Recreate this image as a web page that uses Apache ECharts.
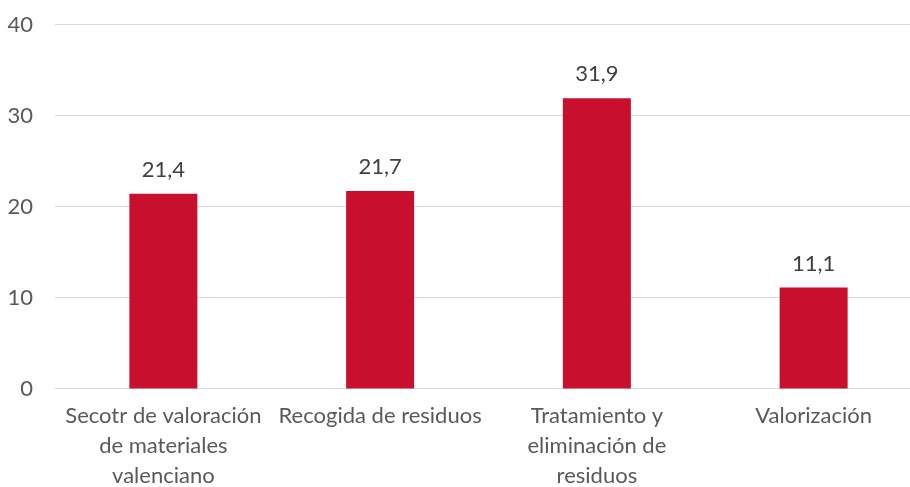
<!DOCTYPE html>
<html><head><meta charset="utf-8">
<script src="https://cdn.jsdelivr.net/npm/echarts@6/dist/echarts.min.js"></script>
<style>html,body{margin:0;padding:0;background:#fff}#c{width:910px;height:487px}</style>
</head><body><div id="c"></div>
<script>
const categories = ["Secotr de valoración\nde materiales\nvalenciano", "Recogida de residuos", "Tratamiento y\neliminación de\nresiduos", "Valorización"];
const values = [21.4, 21.7, 31.9, 11.1];
const yTicks = [0, 10, 20, 30, 40];

const chart = echarts.init(document.getElementById('c'));
const font = 'Lato, "Liberation Sans", sans-serif';
chart.setOption({
  animation: false,
  grid: { left: 55, top: 24.5, width: 867, height: 364, outerBoundsMode: 'none', containLabel: false },
  xAxis: {
    type: 'category', data: categories,
    axisLine: { show: true, lineStyle: { color: '#D9D9D9', width: 1 } },
    axisTick: { show: false },
    axisLabel: { color: '#595959', fontSize: 22, fontFamily: font, lineHeight: 30, margin: 12, interval: 0, align: 'center', hideOverlap: false }
  },
  yAxis: {
    type: 'value', min: yTicks[0], max: yTicks[yTicks.length - 1], interval: 10,
    axisLine: { show: false }, axisTick: { show: false },
    splitLine: { lineStyle: { color: '#D9D9D9', width: 1 } },
    axisLabel: { color: '#595959', fontSize: 22, fontFamily: font, margin: 22 }
  },
  series: [{
    type: 'bar', data: values, barWidth: 68,
    itemStyle: { color: '#C8102E' },
    label: { show: true, position: 'top', distance: 13, color: '#404040', fontSize: 22, fontFamily: font,
      formatter: p => String(p.value).replace('.', ',') }
  }]
});
</script></body></html>
